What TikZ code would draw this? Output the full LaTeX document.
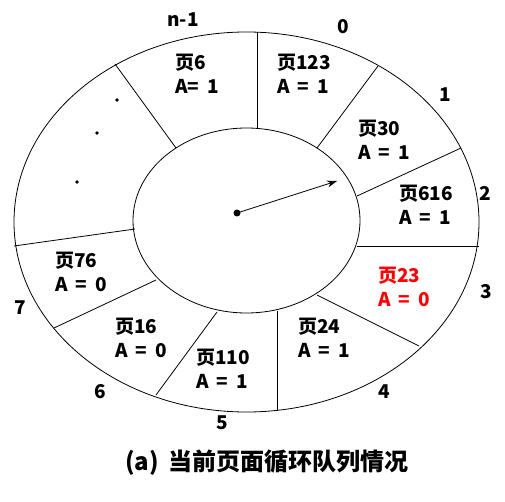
\documentclass[tikz,border=0pt]{standalone}
\usepackage{fontspec}
\setmainfont{Noto Sans CJK SC}[WordSpace=1.8]
\usepackage{tikz}
\usetikzlibrary{arrows.meta}
\tikzset{pagestyle/.style={anchor=west,inner sep=0pt,align=left,font=\fontsize{19}{24}\selectfont\bfseries}}
\tikzset{numstyle/.style={inner sep=0pt,font=\fontsize{19}{24}\selectfont\bfseries}}

\begin{document}
\begin{tikzpicture}[x=1pt,y=-1pt,line width=0.8pt]
            \useasboundingbox (0,0) rectangle (505,502);
            % the two rings
            \draw (246.5,222) ellipse [x radius=232.5,y radius=190];
            \draw (246.5,220.5) ellipse [x radius=113.5,y radius=92.5];
            % spokes between the rings
            \foreach \i/\a/\b/\c/\d in {1/257/129/257/32,2/176/148/115/64,3/317/148/378/66,
                4/357/196/461/148,5/357/246/479/246,6/135/229/14/246,7/156/280/54/328,
                8/217/312/156/395,9/277/311/277/411,10/317/295/419/346}
            {
                \coordinate (in\i) at (\a,\b);
                \coordinate (out\i) at (\c,\d);
                \draw (in\i) -- (out\i);
            }
            % setup the pages
            \foreach \name/\x/\y/\txt in {p6/175/74/{页6\\A= 1},p123/277/74/{页123\\A = 1},
                p30/358/140/{页30\\A = 1},p616/399/205/{页616\\A = 1},
                p24/298/337.5/{页24\\A = 1},p110/196/368.5/{页110\\A = 1},
                p16/115/337.5/{页16\\A = 0},p76/55/272/{页76\\A = 0}}
            {
                \node[pagestyle] (\name) at (\x,\y) {\txt};
            }
            \node[pagestyle,text=red] (p23) at (378,287) {页23\\A = 0};
            % slot numbers
            \foreach \name/\x/\y/\txt in {nn/183/20/n-1,n0/343/27/0,n1/445/95/1,n2/485/193/2,
                n3/486/292/3,n4/384/392/4,n5/222/423/5,n6/100/392/6,n7/20/308/7}
            {
                \node[numstyle] (\name) at (\x,\y) {\txt};
            }
            % the dots
            \foreach \x/\y in {117/100,97/133,77/182}
            {
                \fill (\x,\y) circle (1.8);
            }
            % the pointer
            \node[circle,fill,inner sep=0pt,minimum size=7pt] (hub) at (237,213) {};
            \coordinate (tip) at (337,181);
            \draw[-{Stealth[length=10pt,width=7pt]}] (hub.center) -- (tip);
            % caption
            \node[inner sep=0pt,font=\fontsize{24}{28}\selectfont\bfseries] (cap) at (267,463) {(a) 当前页面循环队列情况};
        \end{tikzpicture}
\end{document}
